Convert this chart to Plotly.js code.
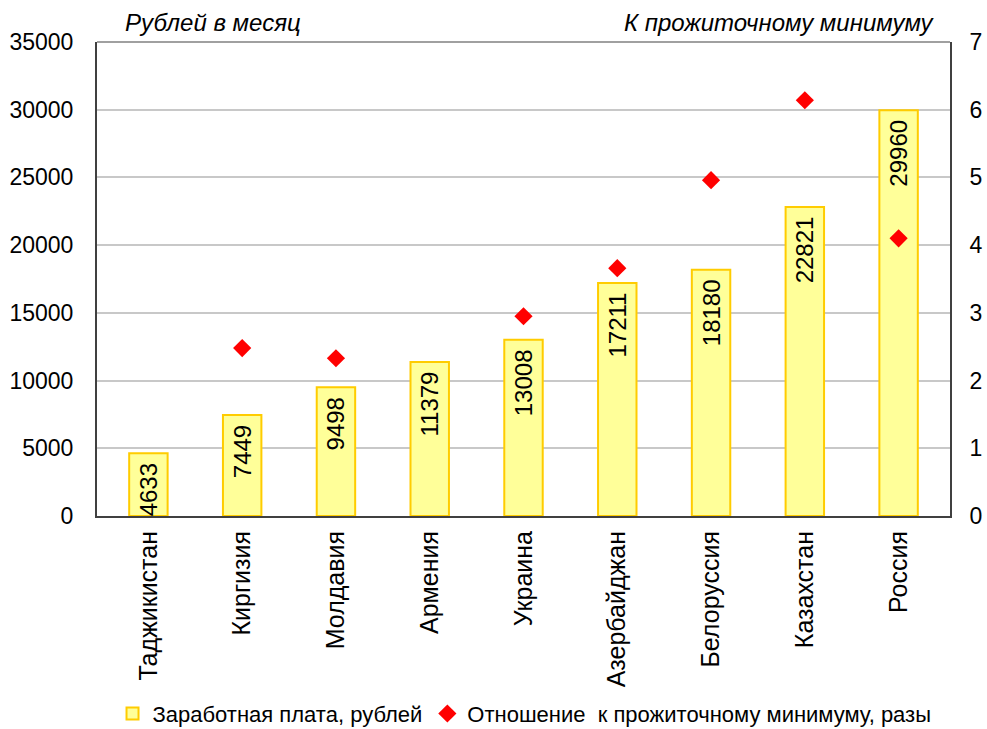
<!DOCTYPE html>
<html>
<head>
<meta charset="utf-8">
<script src="https://cdn.plot.ly/plotly-3.0.1.min.js"></script>
<style>html,body{margin:0;padding:0;background:#fff;}#chart{width:987px;height:729px;}</style>
</head>
<body>
<div id="chart"></div>
<script>
var countries = ["Таджикистан","Киргизия","Молдавия","Армения","Украина","Азербайджан","Белоруссия","Казахстан","Россия"];
var wages = [4633, 7449, 9498, 11379, 13008, 17211, 18180, 22821, 29960];
var ratio = [null, 2.48, 2.33, null, 2.95, 3.66, 4.96, 6.14, 4.10];
var wageName = "Заработная плата, рублей";
var ratioName = "Отношение  к прожиточному минимуму, разы";
var leftTitle = "Рублей в месяц";
var rightTitle = "К прожиточному минимуму";

var font = "Liberation Sans, Arial, sans-serif";

var traces = [
  {
    type: "bar",
    x: countries,
    y: wages,
    name: wageName,
    width: 0.41,
    marker: {color: "#FFFF99", line: {color: "#FFCC00", width: 2}},
    text: wages.map(function(v){return String(v);}),
    texttemplate: "%{text}\u00a0",
    textposition: "inside",
    insidetextanchor: "end",
    textangle: -90,
    constraintext: "none",
    textfont: {family: font, size: 24, color: "#000"},
    cliponaxis: false,
    hoverinfo: "x+y"
  },
  {
    type: "scatter",
    mode: "markers",
    x: countries,
    y: ratio,
    yaxis: "y2",
    name: ratioName,
    marker: {symbol: "diamond", color: "#FF0000", size: 14}
  }
];

var layout = {
  width: 987,
  height: 729,
  margin: {l: 97, r: 37, t: 42, b: 213},
  paper_bgcolor: "#fff",
  plot_bgcolor: "#fff",
  font: {family: font, color: "#000"},
  showlegend: true,
  legend: {
    orientation: "h",
    xref: "container", yref: "container",
    x: 0.114, y: 0.021, xanchor: "left", yanchor: "middle",
    font: {family: font, size: 22, color: "#000"},
    bgcolor: "rgba(0,0,0,0)",
    traceorder: "normal",
    itemwidth: 30
  },
  xaxis: {
    type: "category",
    automargin: false,
    tickangle: -90,
    tickfont: {family: font, size: 25, color: "#000"},
    showline: true, linecolor: "#404040", linewidth: 2,
    ticks: "", showgrid: false, zeroline: false,
    ticklabelstandoff: 3
  },
  yaxis: {
    automargin: false,
    range: [0, 35000],
    dtick: 5000,
    tickformat: "d",
    tickfont: {family: font, size: 23, color: "#000"},
    showline: true, linecolor: "#404040", linewidth: 2,
    showgrid: true, gridcolor: "#c8c8c8", gridwidth: 2,
    zeroline: false, ticks: "",
    ticklabelstandoff: 17
  },
  yaxis2: {
    automargin: false,
    overlaying: "y",
    side: "right",
    range: [0, 7],
    dtick: 1,
    tickfont: {family: font, size: 23, color: "#000"},
    showline: true, linecolor: "#404040", linewidth: 2,
    showgrid: false, zeroline: false, ticks: "",
    ticklabelstandoff: 13
  },
  shapes: [
    {type: "line", xref: "paper", yref: "paper", x0: 0, x1: 1, y0: 1, y1: 1,
     line: {color: "#a0a0a0", width: 2}}
  ],
  annotations: [
    {text: leftTitle, xref: "paper", yref: "paper", x: 0.031, y: 1.042,
     xanchor: "left", yanchor: "middle", showarrow: false,
     font: {family: font, size: 24, color: "#000", style: "italic"}},
    {text: rightTitle, xref: "paper", yref: "paper", x: 0.985, y: 1.042,
     xanchor: "right", yanchor: "middle", showarrow: false,
     font: {family: font, size: 24, color: "#000", style: "italic"}}
  ],
  bargap: 0.59
};

Plotly.newPlot("chart", traces, layout, {displayModeBar: false, staticPlot: true});
</script>
</body>
</html>
